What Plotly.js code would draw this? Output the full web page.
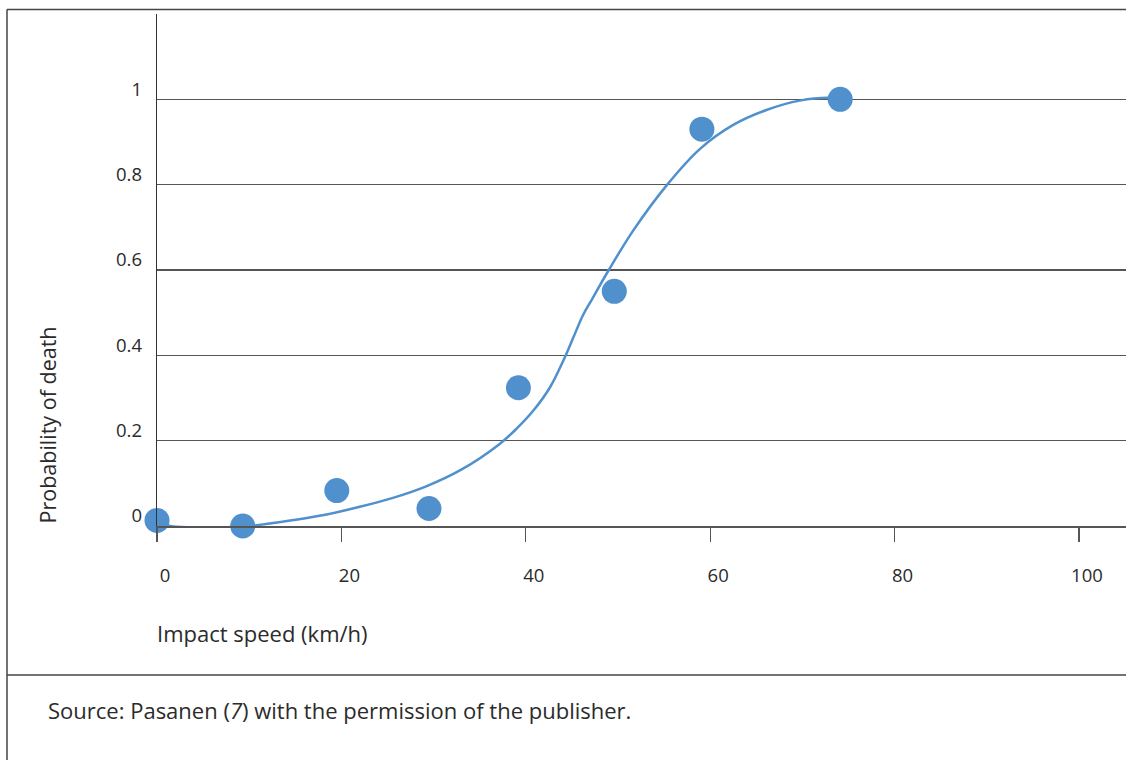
<!DOCTYPE html>
<html>
<head>
<meta charset="utf-8">
<script src="https://cdn.plot.ly/plotly-3.0.1.min.js"></script>
<style>
html,body{margin:0;padding:0;background:#fff;}
#chart{width:1126px;height:760px;}
</style>
</head>
<body>
<div id="chart"></div>
<script>
// Observed data points
const speedPoints = [0, 9.3, 19.5, 29.5, 39.2, 49.6, 59.1, 74.1];
const deathPoints = [0.013, 0.0, 0.083, 0.041, 0.324, 0.550, 0.930, 1.0];

// Fitted curve
const curveSpeed = [0, 1.4, 3.9, 7.6, 10.8, 14.8, 18.4, 22.0, 25.6, 29.2, 33.0, 37.2, 39.0, 40.8, 42.6, 44.1, 45.2, 46.2, 47.2, 49.0, 51.7, 55.3, 58.9, 62.5, 66.1, 69.7, 73.4, 74.1];
const curveDeath = [0.012, 0.0, -0.003, -0.003, 0.002, 0.014, 0.027, 0.045, 0.066, 0.093, 0.132, 0.193, 0.228, 0.270, 0.324, 0.389, 0.444, 0.494, 0.532, 0.600, 0.694, 0.799, 0.884, 0.940, 0.975, 0.997, 1.003, 1.0];

const xTicks = [0, 20, 40, 60, 80, 100];
const yTicks = [0, 0.2, 0.4, 0.6, 0.8, 1];
const yTickText = ['0', '0.2', '0.4', '0.6', '0.8', '1'];

const xTitle = 'Impact speed (km/h)';
const yTitle = 'Probability of death';
const sourceText = 'Source: Pasanen (<i>7</i>) with the permission of the publisher.';

const blue = 'rgb(79,144,205)';
const textColor = '#2b2b2b';
const fontFamily = '"Open Sans", "Noto Sans", sans-serif';

const traces = [
  {
    x: curveSpeed, y: curveDeath, type: 'scatter', mode: 'lines',
    line: {color: blue, width: 2.5, shape: 'spline', smoothing: 1},
    hoverinfo: 'skip', showlegend: false, cliponaxis: false
  },
  {
    x: speedPoints, y: deathPoints, type: 'scatter', mode: 'markers',
    marker: {color: blue, size: 25, line: {width: 0}},
    showlegend: false, cliponaxis: false
  }
];

const layout = {
  width: 1126, height: 760,
  margin: {l: 157, r: 0, t: 14, b: 234, pad: 0},
  paper_bgcolor: '#fff', plot_bgcolor: '#fff',
  font: {family: fontFamily, size: 18, color: textColor},
  showlegend: false,
  xaxis: {
    range: [0, 105.1], fixedrange: true,
    tickvals: xTicks, ticktext: xTicks.map(String),
    ticks: 'outside', ticklen: 14, tickwidth: 1.3, tickcolor: '#555',
    showline: true, linecolor: '#555', linewidth: 1.5,
    showgrid: false, zeroline: false,
    ticklabelstandoff: 18, ticklabelshift: 8,
    tickfont: {family: fontFamily, size: 18.5, color: textColor}
  },
  yaxis: {
    range: [0, 1.2], fixedrange: true,
    tickvals: yTicks, ticktext: yTickText,
    ticks: '', showline: true, linecolor: '#333', linewidth: 1.3,
    showgrid: true, gridcolor: '#555', gridwidth: 1.3, zeroline: false,
    ticklabelstandoff: 10, ticklabelshift: -10,
    tickfont: {family: fontFamily, size: 18.5, color: textColor}
  },
  annotations: [
    {text: xTitle, xref: 'x', x: 0, xanchor: 'left', xshift: -2, yref: 'paper', y: -0.209, yanchor: 'middle',
     showarrow: false, font: {family: fontFamily, size: 22, color: textColor}},
    {text: yTitle, xref: 'paper', x: -0.1125, xanchor: 'center', yref: 'paper', y: 0, yanchor: 'bottom', yshift: 1,
     textangle: -90, showarrow: false, font: {family: fontFamily, size: 21.5, color: textColor}},
    {text: sourceText, xref: 'paper', x: (46 - 157) / 969, xanchor: 'left', yref: 'paper', y: (526 - 710) / 512, yanchor: 'middle',
     showarrow: false, font: {family: fontFamily, size: 22, color: textColor}}
  ],
  shapes: [
    {type: 'line', xref: 'paper', yref: 'paper', x0: (7 - 157) / 969, x1: 1.01, y0: (526 - 9.5) / 512, y1: (526 - 9.5) / 512,
     line: {color: '#444', width: 1.5}},
    {type: 'line', xref: 'paper', yref: 'paper', x0: (7 - 157) / 969, x1: (7 - 157) / 969, y0: (526 - 9.5) / 512, y1: (526 - 770) / 512,
     line: {color: '#444', width: 1.5}},
    {type: 'line', xref: 'paper', yref: 'paper', x0: (7 - 157) / 969, x1: 1.01, y0: (526 - 675) / 512, y1: (526 - 675) / 512,
     line: {color: '#444', width: 1.5}}
  ]
};

Plotly.newPlot('chart', traces, layout, {displayModeBar: false, staticPlot: true});
</script>
</body>
</html>
